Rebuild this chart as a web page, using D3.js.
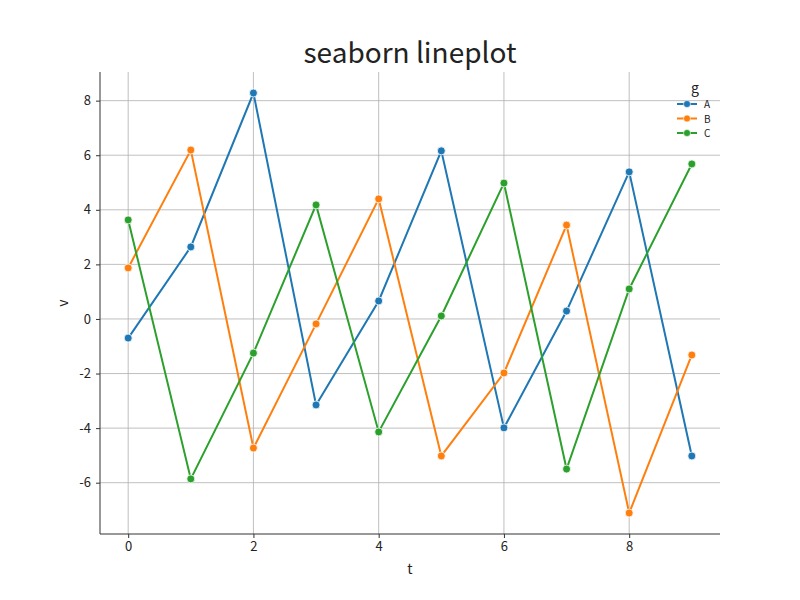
<!DOCTYPE html>
<html>
<head>
<meta charset="utf-8">
<script src="https://cdn.jsdelivr.net/npm/d3@7"></script>
<style>
  body { margin: 0; background: #fff; }
  text { font-family: "Noto Sans CJK JP", "Noto Sans", sans-serif; fill: #222; }
</style>
</head>
<body>
<svg width="800" height="600"></svg>
<script>
const t = [0, 1, 2, 3, 4, 5, 6, 7, 8, 9];
const seriesNames = ["A", "B", "C"];
const colors = ["#1f77b4", "#ff7f0e", "#2ca02c"];
const valuesA = [-0.70, 2.64, 8.28, -3.15, 0.66, 6.16, -3.99, 0.29, 5.39, -5.02];
const valuesB = [1.87, 6.19, -4.73, -0.18, 4.40, -5.02, -1.98, 3.44, -7.11, -1.32];
const valuesC = [3.63, -5.86, -1.25, 4.18, -4.14, 0.11, 4.98, -5.50, 1.10, 5.68];
const xTicks = [0, 2, 4, 6, 8];
const yTicks = [-6, -4, -2, 0, 2, 4, 6, 8];

const svg = d3.select("svg");
const plotLeft = 100, plotRight = 720, plotTop = 72, plotBottom = 534;
const font = "'Noto Sans CJK JP', 'Noto Sans', sans-serif";

const series = [valuesA, valuesB, valuesC].map((vals, i) => ({
	name: seriesNames[i],
	color: colors[i],
	points: vals.map((v, j) => ({ t: t[j], v }))
}));

const x = d3.scaleLinear().domain([-0.45, 9.45]).range([plotLeft, plotRight]);
const y = d3.scaleLinear().domain([-7.88, 9.05]).range([plotBottom, plotTop]);

const grid = svg.append("g");
grid.selectAll(".gx")
	.data(xTicks)
	.join("line")
		.attr("x1", d => x(d)).attr("x2", d => x(d))
		.attr("y1", plotTop).attr("y2", plotBottom)
		.attr("stroke", "#b0b0b0")
		.attr("stroke-width", 0.8);
grid.selectAll(".gy")
	.data(yTicks)
	.join("line")
		.attr("x1", plotLeft).attr("x2", plotRight)
		.attr("y1", d => y(d)).attr("y2", d => y(d))
		.attr("stroke", "#b0b0b0")
		.attr("stroke-width", 0.8);

const xAxis = svg.append("g")
	.attr("transform", `translate(0, ${plotBottom})`)
	.call(d3.axisBottom(x).tickValues(xTicks).tickSize(4).tickPadding(4).tickFormat(d3.format("d")));
const yAxis = svg.append("g")
	.attr("transform", `translate(${plotLeft}, 0)`)
	.call(d3.axisLeft(y).tickValues(yTicks).tickSize(4).tickPadding(5).tickFormat(d => d < 0 ? "-" + Math.abs(d) : d));

[xAxis, yAxis].forEach(a => {
	a.attr("font-family", null);
	a.select(".domain").attr("stroke", "#333").attr("stroke-width", 1);
	a.selectAll(".tick line").attr("stroke", "#333");
	a.selectAll(".tick text").attr("font-size", 13).attr("fill", "#222")
		.style("font-family", font);
});
// matplotlib draws the spine across the full extent
xAxis.select(".domain").attr("d", `M${plotLeft},0H${plotRight}`);
yAxis.select(".domain").attr("d", `M0,${plotTop}V${plotBottom}`);

const line = d3.line().x(d => x(d.t)).y(d => y(d.v));

const plots = svg.append("g");
series.forEach(s => {
	plots.append("path")
		.attr("d", line(s.points))
		.attr("fill", "none")
		.attr("stroke", s.color)
		.attr("stroke-width", 2);
});
series.forEach(s => {
	plots.append("g").selectAll("circle")
		.data(s.points)
		.join("circle")
			.attr("cx", d => x(d.t))
			.attr("cy", d => y(d.v))
			.attr("r", 4)
			.attr("fill", s.color)
			.attr("stroke", "#fff")
			.attr("stroke-width", 0.8);
});

svg.append("text")
	.attr("x", 410).attr("y", 63)
	.attr("text-anchor", "middle")
	.attr("font-size", 28)
	.text("seaborn lineplot");

svg.append("text")
	.attr("x", 410).attr("y", 574)
	.attr("text-anchor", "middle")
	.attr("font-size", 14)
	.text("t");

svg.append("text")
	.attr("transform", "translate(68, 303) rotate(-90)")
	.attr("text-anchor", "middle")
	.attr("font-size", 14)
	.text("v");

const legend = svg.append("g").attr("transform", "translate(677, 0)");
legend.append("text")
	.attr("x", 18).attr("y", 93)
	.attr("text-anchor", "middle")
	.attr("font-size", 14)
	.text("g");
const items = legend.selectAll(".item")
	.data(series)
	.join("g")
		.attr("transform", (d, i) => `translate(0, ${104 + i * 14.5})`);
items.append("line")
	.attr("x1", 0).attr("x2", 20)
	.attr("stroke", d => d.color)
	.attr("stroke-width", 2);
items.append("circle")
	.attr("cx", 10).attr("r", 3.5)
	.attr("fill", d => d.color)
	.attr("stroke", "#fff")
	.attr("stroke-width", 0.6);
items.append("text")
	.attr("x", 27).attr("y", 4)
	.attr("font-size", 10)
	.text(d => d.name);
</script>
</body>
</html>
